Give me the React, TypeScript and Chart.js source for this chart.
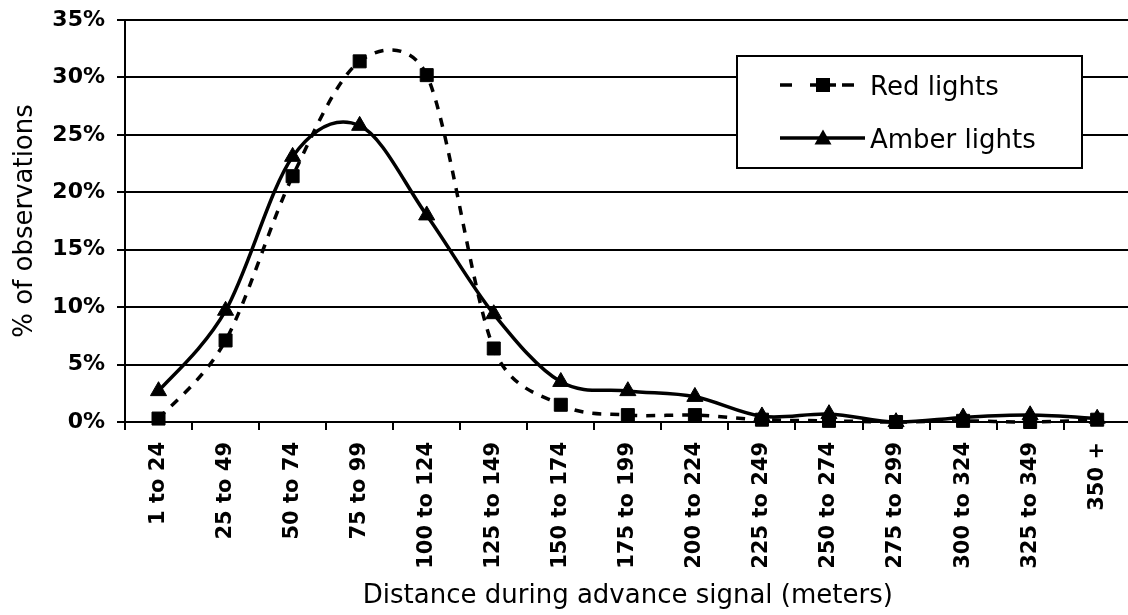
import React, { useEffect, useRef } from 'react';
import { Chart, registerables } from 'chart.js';

Chart.register(...registerables);

// Distance bands along the approach during the advance signal
const categories = [
  '1 to 24', '25 to 49', '50 to 74', '75 to 99', '100 to 124', '125 to 149',
  '150 to 174', '175 to 199', '200 to 224', '225 to 249', '250 to 274',
  '275 to 299', '300 to 324', '325 to 349', '350 +',
];

// Share of observations (%) per band
const redLights = [0.3, 7.1, 21.4, 31.4, 30.2, 6.4, 1.5, 0.6, 0.6, 0.2, 0.1, 0.0, 0.1, 0.0, 0.2];
const amberLights = [2.7, 9.7, 23.1, 25.8, 18.0, 9.4, 3.5, 2.7, 2.2, 0.5, 0.7, 0.0, 0.4, 0.6, 0.3];

const seriesNames = ['Red lights', 'Amber lights'];
const yMax = 35;
const yStep = 5;

const FAMILY = "'DejaVu Sans', Verdana, sans-serif";

// Office-style smoothing: Catmull-Rom tangents (1/6 of the chord), each
// control arm limited to half the length of the segment it belongs to.
const officeSmoothing = {
  id: 'officeSmoothing',
  beforeDatasetDraw(chart: any, args: any) {
    const meta = chart.getDatasetMeta(args.index);
    const line = meta.dataset;
    const pts = meta.data;
    if (!line || !pts || pts.length < 2) return;
    line.updateControlPoints(chart.chartArea, 'x');
    const n = pts.length;
    for (let i = 0; i < n; i++) {
      const p = pts[i];
      const prev = pts[Math.max(0, i - 1)];
      const next = pts[Math.min(n - 1, i + 1)];
      const tx = (next.x - prev.x) / 6;
      const ty = (next.y - prev.y) / 6;
      const tl = Math.hypot(tx, ty) || 1;
      const segPrev = Math.hypot(p.x - prev.x, p.y - prev.y);
      const kPrev = Math.min(1, (segPrev / 2) / tl);
      p.cp1x = p.x - tx * kPrev;
      p.cp1y = p.y - ty * kPrev;
      const segNext = Math.hypot(next.x - p.x, next.y - p.y);
      const kNext = Math.min(1, (segNext / 2) / tl);
      p.cp2x = p.x + tx * kNext;
      p.cp2y = p.y + ty * kNext;
    }
  },
};

// Boxed legend drawn inside the plot, over the grid
const insideLegend = {
  id: 'insideLegend',
  afterDraw(chart: any) {
    const ctx: CanvasRenderingContext2D = chart.ctx;
    const box = { x: 737, y: 56, w: 345, h: 112 };
    ctx.save();
    ctx.fillStyle = '#fff';
    ctx.fillRect(box.x, box.y, box.w, box.h);
    ctx.strokeStyle = '#000';
    ctx.lineWidth = 2;
    ctx.strokeRect(box.x, box.y, box.w, box.h);

    const lineX0 = 780;
    const lineX1 = 865;
    const markX = 823;
    const rows = [85, 138];

    // Red lights sample: dashed line with square marker
    ctx.lineWidth = 3.5;
    ctx.lineCap = 'butt';
    ctx.beginPath();
    [[780, 792], [810, 836], [842, 854]].forEach(([a, b]) => {
      ctx.moveTo(a, rows[0]);
      ctx.lineTo(b, rows[0]);
    });
    ctx.stroke();
    ctx.fillStyle = '#000';
    ctx.fillRect(markX - 7, rows[0] - 7, 14, 14);

    // Amber lights sample: solid line with triangle marker
    ctx.beginPath();
    ctx.moveTo(lineX0, rows[1]);
    ctx.lineTo(lineX1, rows[1]);
    ctx.stroke();
    ctx.beginPath();
    ctx.moveTo(markX, rows[1] - 8.5);
    ctx.lineTo(markX + 8.5, rows[1] + 6.5);
    ctx.lineTo(markX - 8.5, rows[1] + 6.5);
    ctx.closePath();
    ctx.fill();

    ctx.font = `26px ${FAMILY}`;
    ctx.textAlign = 'left';
    ctx.textBaseline = 'alphabetic';
    ctx.fillText(seriesNames[0], 870, rows[0] + 9.5);
    ctx.fillText(seriesNames[1], 870, rows[1] + 9.5);
    ctx.restore();
  },
};

export default function App() {
  const canvasRef = useRef<HTMLCanvasElement>(null);

  useEffect(() => {
    if (!canvasRef.current) return;
    const chart = new Chart(canvasRef.current, {
      type: 'line',
      data: {
        labels: categories,
        datasets: [
          {
            label: seriesNames[0],
            data: redLights,
            borderColor: '#000',
            backgroundColor: '#000',
            borderWidth: 3.5,
            borderDash: [9, 9],
            tension: 0.4,
            fill: false,
            clip: false,
            pointStyle: 'rect',
            pointRadius: 9.2,
            pointBackgroundColor: '#000',
            pointBorderColor: '#000',
            pointBorderWidth: 1,
          },
          {
            label: seriesNames[1],
            data: amberLights,
            borderColor: '#000',
            backgroundColor: '#000',
            borderWidth: 3.5,
            tension: 0.4,
            fill: false,
            clip: false,
            pointStyle: 'triangle',
            pointRadius: 9.3,
            pointBackgroundColor: '#000',
            pointBorderColor: '#000',
            pointBorderWidth: 1,
          },
        ],
      },
      options: {
        responsive: false,
        animation: false,
        layout: { padding: { top: 20, right: 8, left: 0, bottom: 0 } },
        plugins: {
          legend: { display: false },
          tooltip: { enabled: false },
        },
        scales: {
          x: {
            offset: true,
            grid: {
              offset: true,
              drawOnChartArea: false,
              drawTicks: true,
              tickLength: 8,
              color: '#000',
              lineWidth: 2,
            },
            border: { color: '#000', width: 2 },
            ticks: {
              autoSkip: false,
              minRotation: 90,
              maxRotation: 90,
              padding: 12,
              color: '#000',
              font: { family: FAMILY, size: 21, weight: 'bold' },
            },
            title: {
              display: true,
              text: 'Distance during advance signal (meters)',
              color: '#000',
              font: { family: FAMILY, size: 26 },
              padding: { top: 0, bottom: 3 },
            },
            afterFit: (scale: any) => {
              scale.height = 193;
            },
          },
          y: {
            min: 0,
            max: yMax,
            ticks: {
              stepSize: yStep,
              padding: 12,
              color: '#000',
              font: { family: FAMILY, size: 22, weight: 'bold' },
              callback: (v: any) => `${v}%`,
            },
            grid: { color: '#000', lineWidth: 2, tickLength: 8 },
            border: { color: '#000', width: 2 },
            title: {
              display: true,
              text: '% of observations',
              color: '#000',
              font: { family: FAMILY, size: 26 },
              padding: { top: 10, bottom: 0 },
            },
            afterFit: (scale: any) => {
              scale.width = 125;
              scale.paddingTop = 0;
              scale.paddingBottom = 0;
            },
          },
        },
      },
      plugins: [officeSmoothing, insideLegend],
    });
    return () => chart.destroy();
  }, []);

  return (
    <div
      style={{
        position: 'absolute',
        left: 0,
        top: 0,
        width: 1128,
        height: 615,
        overflow: 'hidden',
        background: '#fff',
      }}
    >
      <canvas ref={canvasRef} width={1141} height={615} style={{ display: 'block' }} />
    </div>
  );
}
